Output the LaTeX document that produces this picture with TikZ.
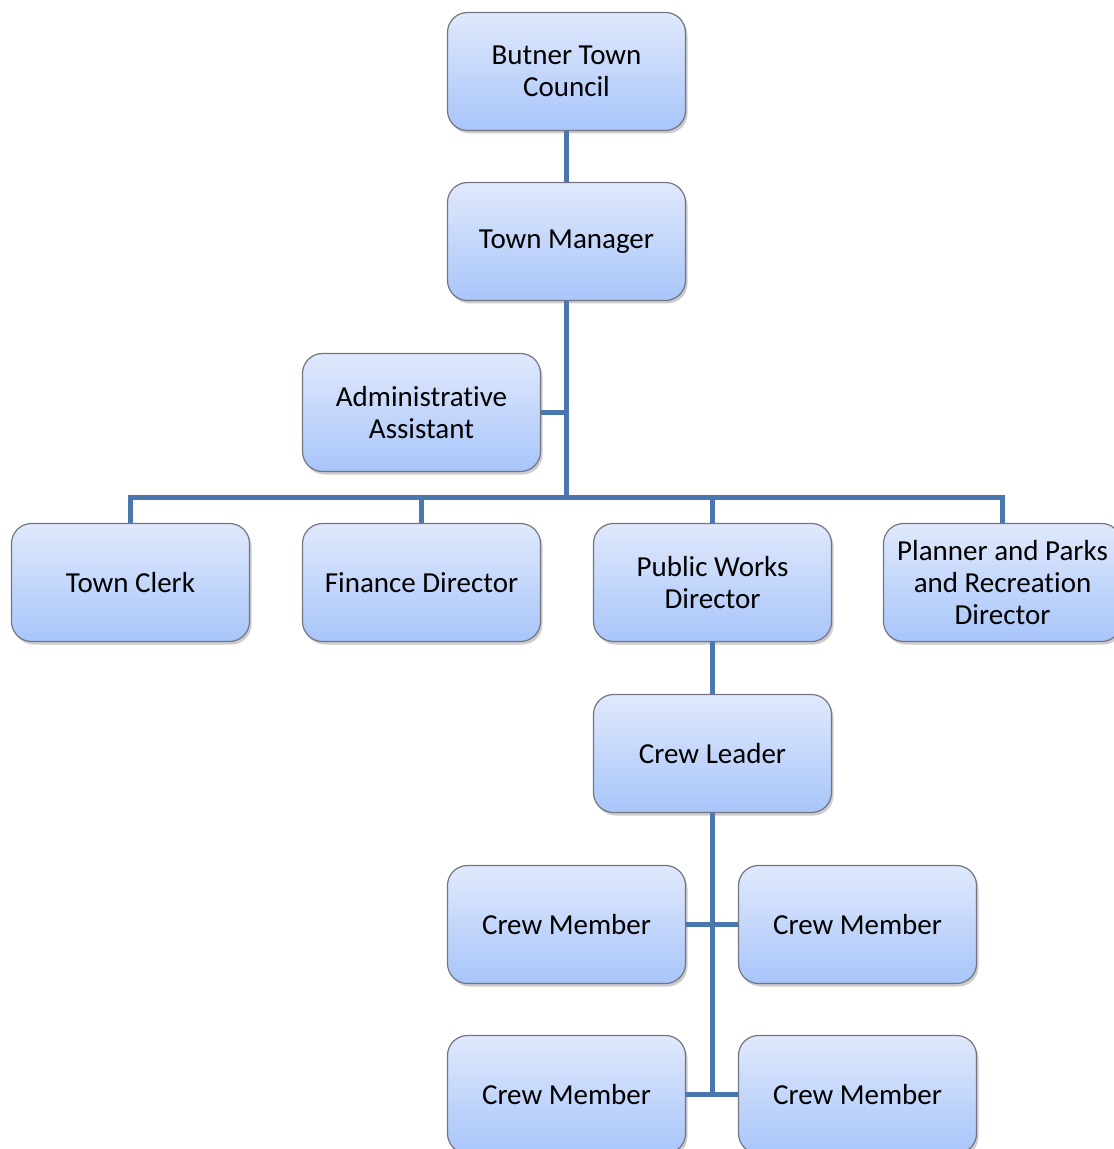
\documentclass[tikz,border=0pt]{standalone}
\usepackage{fontspec}
\setmainfont[Ligatures={NoCommon,NoRare,NoDiscretionary}]{Carlito}
\usepackage{tikz}
\usetikzlibrary{shadows}
\definecolor{chart blue}{RGB}{74, 119, 174}
\definecolor{box top}{RGB}{224, 233, 252}
\definecolor{box bottom}{RGB}{168, 197, 250}
\definecolor{box rim}{RGB}{115, 118, 128}

\begin{document}
\begin{tikzpicture}[x=0.5pt, y=-0.5pt,
		office/.style={draw=box rim, line width=0.6pt, rounded corners=10pt,
			top color=box top, bottom color=box bottom,
			minimum width=119pt, minimum height=59pt, inner sep=2pt,
			align=center, font=\fontsize{14.5pt}{16.2pt}\selectfont,
			drop shadow={shadow xshift=1pt, shadow yshift=-1.5pt, opacity=0.4}},
		link/.style={draw=chart blue, line width=2.5pt}]
			\useasboundingbox (0, 0) rectangle (1113, 1149);
			% top of the chart
			\node[office] (council) at (566.5, 71.5) {Butner Town\\Council};
			\node[office] (manager) at (566.5, 241.5) {Town Manager};
			\node[office] (assistant) at (421.5, 412.5) {Administrative\\Assistant};
			% department heads
			\node[office] (clerk) at (130.5, 582.5) {Town Clerk};
			\node[office] (finance) at (421.5, 582.5) {Finance Director};
			\node[office] (works) at (712.5, 582.5) {Public Works\\Director};
			\node[office] (planner) at (1002.5, 582.5) {Planner and Parks\\and Recreation\\Director};
			% public works crew
			\node[office] (leader) at (712.5, 753.5) {Crew Leader};
			\node[office] (memberA) at (566.5, 924.5) {Crew Member};
			\node[office] (memberB) at (857.5, 924.5) {Crew Member};
			\node[office] (memberC) at (566.5, 1094.5) {Crew Member};
			\node[office] (memberD) at (857.5, 1094.5) {Crew Member};
			% connectors
			\coordinate (hub) at (566.5, 497);
			\draw[link] (council) -- (manager);
			\draw[link] (manager.south) -- (hub);
			\draw[link] (assistant.east) -- (assistant.east -| hub);
			\draw[link] (clerk.north) |- (hub) -| (planner.north);
			\draw[link] (finance.north) -- (finance.north |- hub);
			\draw[link] (works.north) -- (works.north |- hub);
			\draw[link] (works) -- (leader);
			\draw[link] (leader.south) -- (leader.south |- memberC.east);
			\draw[link] (memberA.east) -- (memberB.west);
			\draw[link] (memberC.east) -- (memberD.west);
		\end{tikzpicture}
\end{document}
